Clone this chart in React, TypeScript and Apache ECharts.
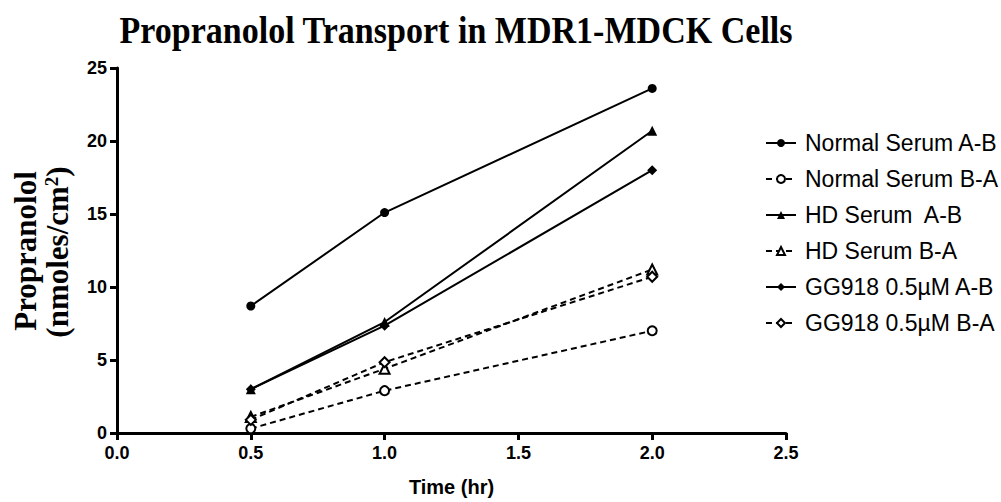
import React, { useEffect, useRef } from "react";
import * as echarts from "echarts";

const times = [0.5, 1.0, 2.0];
const xTicks = [0, 0.5, 1.0, 1.5, 2.0, 2.5];
const yTicks = [0, 5, 10, 15, 20, 25];
const normalAB = [8.7, 15.1, 23.6];
const normalBA = [0.3, 2.9, 7.0];
const hdAB = [3.0, 7.6, 20.7];
const hdBA = [1.1, 4.4, 11.2];
const ggAB = [3.0, 7.35, 18.0];
const ggBA = [0.9, 4.85, 10.7];

const seriesNames = [
  "Normal Serum A-B",
  "Normal Serum B-A",
  "HD Serum  A-B",
  "HD Serum B-A",
  "GG918 0.5\u00B5M A-B",
  "GG918 0.5\u00B5M B-A",
];
const seriesValues = [normalAB, normalBA, hdAB, hdBA, ggAB, ggBA];
const symbols = ["circle", "circle", "triangle", "triangle", "diamond", "diamond"];
const filled = [true, false, true, false, true, false];

const SERIF = "'Liberation Serif', 'Times New Roman', serif";
const SANS = "'Liberation Sans', Arial, sans-serif";

export default function App() {
  const ref = useRef<HTMLDivElement>(null);
  useEffect(() => {
    if (!ref.current) return;
    document.body.style.margin = "0";
    const chart = echarts.init(ref.current, null, { renderer: "svg" });
    const series = seriesNames.map((name, i) => ({
      name,
      type: "line",
      data: times.map((t, j) => [t, seriesValues[i][j]]),
      symbol: symbols[i],
      symbolSize: symbols[i] === "circle" ? 9 : 10,
      showSymbol: true,
      lineStyle: {
        color: "#000",
        width: 2,
        type: filled[i] ? "solid" : [6, 4],
      },
      itemStyle: {
        color: filled[i] ? "#000" : "#fff",
        borderColor: "#000",
        borderWidth: filled[i] ? 0 : 2,
      },
      z: filled[i] ? 3 : 2,
    }));
    chart.setOption({
      animation: false,
      backgroundColor: "#fff",
      legend: {
        orient: "vertical",
        left: 760,
        top: 126,
        itemWidth: 30,
        itemHeight: 10,
        itemGap: 12,
        data: seriesNames,
        textStyle: {
          fontFamily: SANS,
          fontSize: 23,
          color: "#000",
          padding: [0, 0, 0, 4],
          lineHeight: 24,
        },
      },
      grid: { left: 117, right: 215, top: 68, bottom: 68, containLabel: false },
      xAxis: {
        type: "value",
        min: 0,
        max: 2.5,
        interval: 0.5,
        name: "Time (hr)",
        nameLocation: "middle",
        nameGap: 44,
        nameTextStyle: { fontFamily: SANS, fontWeight: "bold", fontSize: 20, color: "#000" },
        axisLine: { show: true, onZero: false, lineStyle: { color: "#000", width: 3 } },
        axisTick: { show: true, inside: false, length: 7, lineStyle: { color: "#000", width: 3 } },
        axisLabel: {
          margin: 11,
          fontFamily: SANS,
          fontWeight: "bold",
          fontSize: 18,
          color: "#000",
          formatter: (v: number) => (xTicks.indexOf(v) >= 0 ? v.toFixed(1) : ""),
        },
        splitLine: { show: false },
      },
      yAxis: {
        type: "value",
        min: 0,
        max: 25,
        interval: 5,
        axisLine: { show: true, onZero: false, lineStyle: { color: "#000", width: 3 } },
        axisTick: { show: true, inside: false, length: 7, lineStyle: { color: "#000", width: 3 } },
        axisLabel: {
          margin: 10,
          fontFamily: SANS,
          fontWeight: "bold",
          fontSize: 18,
          color: "#000",
          formatter: (v: number) => (yTicks.indexOf(v) >= 0 ? String(v) : ""),
        },
        splitLine: { show: false },
      },
      graphic: [
        {
          type: "text",
          x: 456,
          y: 31,
          scaleX: 0.92,
          style: {
            text: "Propranolol Transport in MDR1-MDCK Cells",
            fontFamily: SERIF,
            fontWeight: "bold",
            fontSize: 37,
            fill: "#000",
            textAlign: "center",
            textVerticalAlign: "middle",
          },
        },
        {
          type: "text",
          x: 25,
          y: 251,
          rotation: Math.PI / 2,
          style: {
            text: "Propranolol",
            fontFamily: SERIF,
            fontWeight: "bold",
            fontSize: 31,
            fill: "#000",
            textAlign: "center",
            textVerticalAlign: "middle",
          },
        },
        {
          type: "text",
          x: 57,
          y: 252,
          rotation: Math.PI / 2,
          style: {
            text: "(nmoles/cm{sup|2})",
            fontFamily: SERIF,
            fontWeight: "bold",
            fontSize: 31,
            fill: "#000",
            textAlign: "center",
            textVerticalAlign: "middle",
            rich: {
              sup: {
                fontFamily: SERIF,
                fontWeight: "bold",
                fontSize: 19,
                fill: "#000",
                verticalAlign: "top",
                padding: [0, 0, 12, 0],
              },
            },
          },
        },
      ],
      series,
    });
    return () => chart.dispose();
  }, []);
  return (
    <div
      ref={ref}
      style={{ position: "fixed", left: 0, top: 0, width: 1001, height: 502 }}
    />
  );
}
